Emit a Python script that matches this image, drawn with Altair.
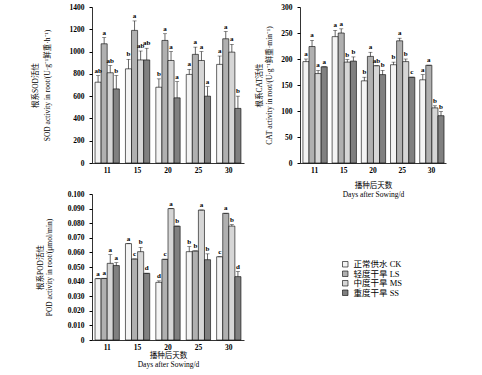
import altair as alt
import pandas as pd

days = ["11", "15", "20", "25", "30"]
treat = ["正常供水 CK", "轻度干旱 LS", "中度干旱 MS", "重度干旱 SS"]

# SOD (mean, upper error, letters) per treatment across days
sod_mean = [[725, 845, 680, 795, 885],
            [1070, 1190, 1100, 975, 1115],
            [810, 925, 920, 920, 995],
            [665, 925, 585, 600, 490]]
sod_err = [[60, 85, 75, 45, 75],
           [55, 85, 60, 65, 65],
           [65, 80, 80, 80, 70],
           [120, 105, 145, 85, 110]]
sod_let = [["ab", "b", "b", "a", "a"],
           ["a", "a", "a", "a", "a"],
           ["ab", "ab", "a", "a", "a"],
           ["b", "ab", "a", "a", "b"]]

cat_mean = [[195, 243, 158, 189, 160],
            [224, 250, 205, 235, 188],
            [172, 194, 187, 195, 106],
            [185, 196, 170, 165, 91]]
cat_err = [[5, 12, 7, 5, 10],
           [12, 8, 8, 5, 0],
           [6, 5, 0, 5, 4],
           [0, 8, 8, 0, 8]]
cat_let = [["a", "a", "b", "b", "a"],
           ["a", "a", "a", "a", "a"],
           ["a", "b", "ab", "b", "b"],
           ["a", "b", "b", "c", "b"]]

pod_mean = [[0.042, 0.066, 0.0395, 0.0605, 0.057],
            [0.0422, 0.0555, 0.0553, 0.061, 0.0868],
            [0.0525, 0.0605, 0.090, 0.089, 0.078],
            [0.051, 0.0457, 0.078, 0.055, 0.0434]]
pod_err = [[0, 0, 0.001, 0.0035, 0],
           [0, 0, 0, 0, 0],
           [0.006, 0.003, 0, 0, 0.001],
           [0.002, 0, 0, 0.004, 0.0035]]
pod_let = [["a", "a", "d", "b", "c"],
           ["a", "c", "c", "b", "a"],
           ["a", "b", "a", "a", "b"],
           ["a", "d", "b", "b", "d"]]

FONT = "Liberation Serif, Noto Sans CJK SC"
fills = ["#f4f4f4", "#b0b0b0", "#d6d6d6", "#808080"]


def make_df(means, errs, letters):
    rows = []
    for t, m, e, l in zip(treat, means, errs, letters):
        for d, mv, ev, lv in zip(days, m, e, l):
            rows.append(dict(day=d, treat=t, mean=mv, top=mv + ev, letter=lv))
    return pd.DataFrame(rows)


def panel(df, ymax, yvals, lexpr, ytitle, ytpad, ylh, xtitle, xtpad, w, h):
    xaxis = alt.Axis(labelAngle=0, ticks=False, labelPadding=3,
                     titlePadding=xtpad, titleLineHeight=9)
    x = alt.X("day:N", sort=days, title=xtitle,
              scale=alt.Scale(paddingInner=0.2, paddingOuter=0.1), axis=xaxis)
    xo = alt.XOffset("treat:N", sort=treat)
    yscale = alt.Scale(domain=[0, ymax], nice=False)

    def yenc(field):
        return alt.Y(field, scale=yscale, title=ytitle,
                     axis=alt.Axis(values=yvals, labelExpr=lexpr, grid=False,
                                   tickSize=3, labelPadding=5, labelOverlap=False,
                                   titlePadding=ytpad, titleLineHeight=ylh))

    base = alt.Chart(df)
    bars = base.mark_bar(stroke="black", strokeWidth=0.6).encode(
        x=x, xOffset=xo, y=yenc("mean:Q"),
        color=alt.Color("treat:N", sort=treat,
                        scale=alt.Scale(domain=treat, range=fills),
                        title=None))
    rule = base.mark_rule(strokeWidth=0.6, color="black").encode(
        x=x, xOffset=xo, y=yenc("mean:Q"), y2="top:Q")
    cap = base.mark_tick(thickness=0.6, size=4, color="black").encode(
        x=x, xOffset=xo, y=yenc("top:Q"))
    txt = base.mark_text(dy=-5, fontSize=7, font=FONT, fontWeight="bold",
                         color="black").encode(
        x=x, xOffset=xo, y=yenc("top:Q"), text="letter:N")
    return alt.layer(bars, rule, cap, txt).properties(width=w, height=h)


int_lbl = "format(datum.value, 'd')"
pod_lbl = "datum.value == 0 ? '0' : format(datum.value, '.3f')"

sod = panel(make_df(sod_mean, sod_err, sod_let), 1400,
            [0, 200, 400, 600, 800, 1000, 1200, 1400], int_lbl,
            ["根系SOD活性", "SOD activity in root/(U·g⁻¹鲜重·h⁻¹)"], 18, 12,
            None, 2, 152, 156)
cat = panel(make_df(cat_mean, cat_err, cat_let), 300,
            [0, 50, 100, 150, 200, 250, 300], int_lbl,
            ["根系CAT活性", "CAT activity in root/(U·g⁻¹鲜重·min⁻¹)"], 7, 10,
            ["播种后天数", "Days after Sowing/d"], 8, 146, 156)
pod = panel(make_df(pod_mean, pod_err, pod_let), 0.1,
            [0, 0.01, 0.02, 0.03, 0.04, 0.05, 0.06, 0.07, 0.08, 0.09, 0.1], pod_lbl,
            ["根系POD活性", "POD activity in root/(μmol/min)"], 14, 9,
            ["播种后天数", "Days after Sowing/d"], 1, 152, 146)

chart = alt.concat(sod, cat, pod, columns=2, spacing={"row": 31, "column": 56},
                   bounds="flush").properties(
    padding={"left": 31, "top": 3, "right": 5, "bottom": 5},
    background="white",
).configure_view(stroke=None).configure_axis(
    labelFont=FONT, titleFont=FONT, labelFontSize=7.5, labelFontWeight="bold",
    titleFontSize=7.5, titleFontWeight="normal", domainColor="black",
    tickColor="black", labelColor="black", titleColor="black", domainWidth=0.8,
    labelOverlap=False,
).configure_legend(
    orient="none", legendX=249, legendY=253, labelFont=FONT, labelFontSize=8.5,
    symbolType="square", symbolSize=30, symbolStrokeColor="black",
    symbolStrokeWidth=0.6, rowPadding=0.5, labelColor="black",
)

chart.save("out.html", embed_options={"renderer": "svg", "actions": False})
